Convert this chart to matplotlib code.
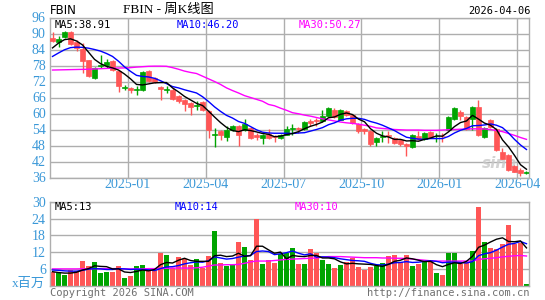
import numpy as np
import matplotlib
matplotlib.use("Agg")
import matplotlib.pyplot as plt

# FBIN weekly K line, index 0 = week of 2024-09-30 ... index 79 = week of 2026-04-06
opens = [88.4, 86.75, 88.75, 90.5, 86.75, 84.25, 79.9, 73.4, 77.9, 78.1,
         79.6, 76.1, 69.4, 69.6, 68.8, 69.0, 75.9, 73.4, 69.8, 68.8,
         69.0, 66.75, 65.25, 64.0, 62.8, 64.3, 60.9, 51.8, 53.6, 51.25,
         54.0, 55.25, 54.0, 54.6, 52.0, 50.9, 52.4, 51.7, 51.0, 52.1,
         54.1, 54.6, 54.25, 57.1, 57.6, 57.1, 59.25, 61.25, 57.75, 60.9,
         59.6, 56.1, 54.25, 53.6, 49.25, 51.3, 52.1, 50.9, 50.25, 48.4,
         47.4, 51.5, 50.6, 53.0, 51.5, 51.7, 54.0, 58.1, 60.5, 58.6,
         58.1, 62.4, 51.25, 57.4, 54.25, 45.5, 44.6, 40.25, 39.0, 37.8]
closes = [87.1, 88.0, 90.5, 86.1, 84.4, 79.6, 74.25, 76.9, 78.2, 79.4,
          76.5, 70.25, 69.8, 68.8, 69.2, 75.5, 72.1, 71.75, 69.2, 69.3,
          65.5, 64.6, 63.4, 62.5, 63.1, 61.3, 54.0, 52.4, 52.1, 54.0,
          55.25, 52.1, 55.9, 50.9, 51.3, 52.1, 50.9, 51.3, 52.0, 54.0,
          54.5, 54.3, 56.9, 56.5, 57.2, 59.25, 61.9, 58.75, 61.25, 59.6,
          56.5, 53.6, 53.4, 48.6, 50.9, 51.7, 51.5, 49.0, 48.4, 47.75,
          52.1, 50.6, 52.5, 51.25, 51.7, 51.5, 58.75, 62.1, 59.0, 54.25,
          62.4, 51.9, 54.4, 55.0, 46.25, 43.0, 38.8, 38.2, 37.6, 37.9]
highs = [90.6, 89.0, 90.8, 90.8, 87.75, 86.5, 80.1, 77.3, 82.1, 80.5,
         80.0, 76.5, 70.6, 69.9, 70.25, 75.9, 76.3, 73.8, 70.25, 70.25,
         69.4, 67.1, 65.6, 64.5, 64.6, 64.8, 61.3, 54.6, 54.0, 55.25,
         55.6, 55.6, 58.0, 55.0, 52.75, 52.5, 54.25, 52.0, 52.3, 55.5,
         56.1, 55.0, 57.2, 58.0, 58.5, 61.25, 62.4, 61.9, 61.75, 61.5,
         59.9, 56.4, 54.6, 54.0, 51.2, 53.4, 53.6, 51.2, 50.6, 48.8,
         52.5, 53.4, 52.9, 53.4, 52.6, 52.6, 59.0, 62.5, 61.25, 59.0,
         62.8, 65.25, 54.8, 57.8, 54.6, 47.1, 45.0, 40.6, 39.4, 38.4]
lows = [86.8, 84.9, 88.5, 85.8, 83.4, 75.25, 73.75, 72.9, 77.1, 77.1,
        76.0, 68.0, 68.75, 67.6, 67.1, 68.5, 71.8, 71.3, 65.25, 67.75,
        65.0, 64.0, 60.9, 59.6, 61.5, 60.9, 50.9, 47.5, 50.25, 49.6,
        53.6, 47.75, 53.6, 50.5, 50.25, 48.4, 50.5, 49.25, 50.5, 51.8,
        52.1, 52.6, 54.0, 55.25, 55.25, 56.8, 59.0, 58.5, 57.5, 58.9,
        56.2, 52.75, 52.4, 48.0, 47.75, 49.25, 49.0, 48.7, 48.0, 44.25,
        47.0, 50.2, 50.2, 50.9, 49.5, 49.5, 53.6, 57.5, 57.75, 53.9,
        54.0, 51.5, 51.0, 54.6, 45.8, 43.0, 38.5, 38.0, 36.5, 37.5]

ma5 = [84.6, 86.4, 87.7, 88.0, 87.2, 85.7, 83.0, 80.3, 78.7, 77.7,
       77.1, 76.3, 74.8, 73.0, 70.9, 70.7, 71.1, 71.5, 71.6, 71.6,
       69.6, 68.1, 66.4, 65.1, 63.8, 63.0, 60.9, 58.7, 56.6, 54.8,
       53.6, 53.2, 53.9, 53.6, 53.1, 52.5, 52.2, 51.3, 51.5, 52.1,
       52.5, 53.2, 54.3, 55.2, 55.9, 56.8, 58.4, 58.7, 59.7, 60.2,
       59.6, 57.9, 56.9, 54.3, 52.6, 51.6, 51.2, 50.3, 50.3, 49.7,
       49.8, 49.6, 50.3, 50.8, 51.6, 51.5, 53.1, 55.1, 56.6, 57.2,
       59.3, 57.9, 56.4, 55.6, 54.0, 50.1, 47.5, 44.3, 40.8, 39.1]
ma10 = [81.4, 82.7, 83.9, 84.7, 84.9, 84.8, 84.5, 84.0, 83.4, 82.5,
        81.4, 79.6, 77.5, 75.8, 74.3, 73.9, 73.7, 73.2, 72.3, 71.2,
        70.1, 69.6, 68.9, 68.3, 67.7, 66.3, 64.5, 62.5, 60.8, 59.3,
        58.3, 57.0, 56.3, 55.1, 53.9, 53.0, 52.7, 52.6, 52.6, 52.6,
        52.5, 52.7, 52.8, 53.4, 54.0, 54.7, 55.8, 56.5, 57.5, 58.0,
        58.2, 58.2, 57.8, 57.0, 56.4, 55.6, 54.6, 53.6, 52.3, 51.1,
        50.7, 50.4, 50.3, 50.6, 50.6, 50.6, 51.4, 52.7, 53.7, 54.4,
        55.4, 55.5, 55.7, 56.1, 55.6, 54.7, 52.7, 50.3, 48.2, 46.5]
ma30 = [76.3, 76.35, 76.4, 76.45, 76.5, 76.55, 76.6, 76.7, 76.8, 76.9,
        77.0, 77.05, 77.1, 77.2, 77.4, 77.55, 77.7, 77.75, 77.75, 77.7,
        77.2, 76.6, 75.9, 75.4, 75.0, 74.0, 73.0, 72.0, 70.9, 69.6,
        68.6, 67.7, 66.7, 66.0, 65.3, 64.6, 63.4, 62.9, 62.0, 61.2,
        60.3, 59.9, 59.4, 59.0, 58.5, 58.0, 57.6, 57.2, 56.8, 56.5,
        56.3, 56.0, 55.6, 55.2, 54.6, 54.4, 54.2, 54.0, 53.9, 53.8,
        53.8, 53.8, 53.7, 53.7, 53.7, 53.8, 53.9, 54.0, 54.1, 54.2,
        54.25, 54.25, 54.2, 54.0, 53.6, 53.2, 52.5, 51.8, 51.0, 50.3]

# volume, millions of shares
volumes = [5.0, 4.4, 3.8, 5.6, 5.4, 8.9, 7.0, 8.6, 4.4, 5.0,
           5.0, 7.0, 2.9, 3.6, 7.0, 7.4, 5.6, 5.6, 11.8, 11.0,
           6.5, 10.4, 9.5, 7.4, 9.5, 6.5, 10.7, 19.6, 8.2, 7.0,
           7.7, 15.7, 13.9, 9.2, 23.8, 7.7, 9.2, 8.2, 11.2, 11.8,
           13.5, 7.7, 7.7, 13.1, 11.8, 9.2, 7.7, 6.3, 7.4, 8.6,
           10.0, 6.8, 5.6, 6.8, 7.0, 8.2, 10.6, 11.0, 8.6, 11.0,
           7.0, 7.7, 8.8, 9.2, 4.6, 3.8, 11.8, 11.8, 7.7, 8.6,
           12.4, 28.2, 15.5, 13.5, 13.2, 15.0, 21.8, 15.0, 15.2, 0.5]
vol_ma5 = [5.0, 4.7, 4.5, 4.5, 4.8, 5.6, 6.1, 7.1, 6.9, 6.8,
           6.0, 6.0, 4.9, 4.7, 5.1, 5.6, 5.3, 5.8, 7.5, 8.3,
           8.1, 9.1, 9.8, 9.0, 8.7, 8.7, 8.7, 10.7, 10.9, 10.4,
           10.6, 11.6, 10.5, 10.7, 14.1, 14.1, 12.8, 11.6, 12.0, 9.6,
           10.8, 10.5, 10.4, 10.8, 10.8, 9.9, 9.9, 9.6, 8.5, 7.8,
           8.0, 7.8, 7.7, 7.6, 7.2, 6.9, 7.6, 8.7, 9.1, 9.9,
           9.6, 9.1, 8.6, 8.7, 7.5, 6.8, 7.6, 8.2, 7.9, 8.7,
           10.5, 13.7, 14.5, 15.6, 16.6, 17.1, 15.8, 15.7, 16.0, 13.5]
vol_ma10 = [5.6, 5.5, 5.3, 5.2, 5.2, 5.5, 5.9, 6.1, 6.0, 5.8,
            5.8, 6.1, 6.0, 5.8, 5.9, 5.8, 5.7, 5.4, 6.1, 6.7,
            6.8, 7.2, 7.8, 8.2, 8.5, 8.4, 8.9, 10.3, 9.9, 9.5,
            9.7, 10.2, 10.6, 10.8, 12.2, 12.4, 12.2, 11.1, 11.4, 11.8,
            12.4, 11.6, 11.0, 11.4, 10.2, 10.3, 10.2, 10.0, 9.6, 9.3,
            9.0, 8.9, 8.7, 8.0, 7.5, 7.4, 7.7, 8.2, 8.3, 8.6,
            8.3, 8.4, 8.7, 8.9, 8.7, 8.2, 8.4, 8.4, 8.3, 8.1,
            8.6, 10.7, 11.4, 11.8, 12.7, 13.8, 14.8, 15.1, 15.8, 15.0]
vol_ma30 = [6.0, 6.0, 6.0, 6.0, 6.0, 6.05, 6.05, 6.1, 6.1, 6.1,
            6.1, 6.1, 6.0, 6.0, 6.0, 6.0, 6.1, 6.1, 6.2, 6.2,
            6.3, 6.3, 6.3, 6.3, 6.4, 6.6, 7.0, 7.4, 7.4, 7.5,
            7.5, 7.6, 8.0, 8.5, 8.8, 8.8, 8.8, 9.0, 9.2, 9.4,
            9.5, 9.6, 9.7, 9.8, 9.9, 10.2, 10.4, 10.4, 10.4, 10.3,
            10.2, 10.1, 10.0, 10.0, 10.0, 9.9, 9.9, 9.8, 9.8, 9.7,
            9.5, 9.3, 9.1, 8.9, 8.8, 8.8, 8.8, 8.8, 8.8, 8.8,
            8.8, 9.4, 9.6, 9.8, 10.0, 10.3, 10.5, 10.7, 10.8, 10.6]

month_labels = ['2025-01', '2025-04', '2025-07', '2025-10', '2026-01', '2026-04']
month_index = [13, 26, 39, 52, 65, 78]   # first week of each quarter

price_ticks = [36, 42, 48, 54, 60, 66, 72, 78, 84, 90, 96]
vol_ticks = [6, 12, 18, 24, 30]

UP = '#00a400'
DOWN = '#ff5656'
GRID = '#aeaeae'
LBL = '#3a98d8'
W, H = 545, 300

def fpos(x, y):
    # pixel position (from top-left) -> figure fraction
    return x / W, 1 - y / H

x = np.arange(len(closes))
o = np.array(opens)
c = np.array(closes)
colors = [UP if cc >= oo else DOWN for oo, cc in zip(o, c)]

fig = plt.figure(figsize=(W / 100, H / 100), dpi=100)
ax_p = fig.add_axes([50 / W, 1 - 177.5 / H, 479 / W, 160 / H])
ax_v = fig.add_axes([50 / W, 1 - 285.7 / H, 479 / W, 84 / H])

for ax in (ax_p, ax_v):
    ax.set_xlim(-0.42, 79.42)
    for s in ax.spines.values():
        s.set_color(GRID)
        s.set_linewidth(1)
    ax.tick_params(length=0, labelsize=10, colors=LBL, pad=3)

# price panel
ax_p.set_ylim(36, 96)
ax_p.set_yticks(price_ticks)
ax_p.set_yticklabels([str(t) for t in price_ticks], family='Liberation Serif',
                     color=LBL, fontsize=10)
ax_p.yaxis.grid(True, color=GRID, linewidth=1)
ax_p.set_axisbelow(True)
for m in month_index:
    ax_p.axvline(m - 0.5, color=GRID, linewidth=1, zorder=0)
ax_p.set_xticks([m - 0.5 for m in month_index])
ax_p.set_xticklabels(month_labels, family='Liberation Serif', color=LBL, fontsize=10)
ax_p.tick_params(axis='x', pad=0.5)

ax_p.vlines(x, lows, highs, colors=colors, linewidth=1, zorder=2)
ax_p.bar(x, np.abs(c - o), bottom=np.minimum(o, c), width=0.72,
         color=colors, edgecolor=colors, linewidth=0.5, zorder=3)
ax_p.plot(x, ma30, color='#ff00ff', linewidth=1, zorder=4)
ax_p.plot(x, ma10, color='#0000ff', linewidth=1, zorder=4)
ax_p.plot(x, ma5, color='black', linewidth=1, zorder=5)

# faint watermark
ax_p.text(74.5, 38.3, 'sina', fontsize=11, fontweight='bold', style='italic',
          color='#c8c8c8', alpha=0.8, ha='center', va='bottom', zorder=1)

# volume panel
ax_v.set_ylim(0, 30)
ax_v.set_yticks(vol_ticks)
ax_v.set_yticklabels([str(t) for t in vol_ticks], family='Liberation Serif',
                     color=LBL, fontsize=10)
ax_v.yaxis.grid(True, color=GRID, linewidth=1)
ax_v.set_axisbelow(True)
ax_v.set_xticks([])
ax_v.bar(x, volumes, width=0.82, color=colors, linewidth=0, zorder=2)
ax_v.plot(x, vol_ma30, color='#ff00ff', linewidth=1, zorder=4)
ax_v.plot(x, vol_ma10, color='#0000ff', linewidth=1, zorder=4)
ax_v.plot(x, vol_ma5, color='black', linewidth=1, zorder=5)

# header texts
mono = 'DejaVu Sans Mono'
fig.text(*fpos(50, 10), 'FBIN', fontsize=8.5, family='DejaVu Sans', va='center')
fig.text(*fpos(168, 9.5), 'FBIN - 周K线图', fontsize=9.5,
         family=['Liberation Serif', 'Noto Sans CJK SC'], va='center', ha='center')
fig.text(*fpos(531, 11), '2026-04-06', fontsize=7.5, family=mono, va='center', ha='right')

fig.text(*fpos(55, 25), 'MA5:38.91', fontsize=7.5, family=mono, va='center', color='black')
fig.text(*fpos(177, 25), 'MA10:46.20', fontsize=7.5, family=mono, va='center', color='#0000ff')
fig.text(*fpos(299, 25), 'MA30:50.27', fontsize=7.5, family=mono, va='center', color='#ff00ff')

fig.text(*fpos(55, 207), 'MA5:13', fontsize=7.5, family=mono, va='center', color='black')
fig.text(*fpos(175, 207), 'MA10:14', fontsize=7.5, family=mono, va='center', color='#0000ff')
fig.text(*fpos(295, 207), 'MA30:10', fontsize=7.5, family=mono, va='center', color='#ff00ff')

fig.text(*fpos(45, 284), 'x百万', fontsize=9.5, family=['Liberation Serif', 'Noto Sans CJK SC'],
         va='center', ha='right', color=LBL)

fig.text(*fpos(50, 293), 'Copyright 2026 SINA.COM', fontsize=7.5, family=mono,
         va='center', color='#707070')
fig.text(*fpos(530, 293), 'http://finance.sina.com.cn', fontsize=7.5, family=mono,
         va='center', ha='right', color='#707070')

fig.savefig('out.png', dpi=100, facecolor='white')
